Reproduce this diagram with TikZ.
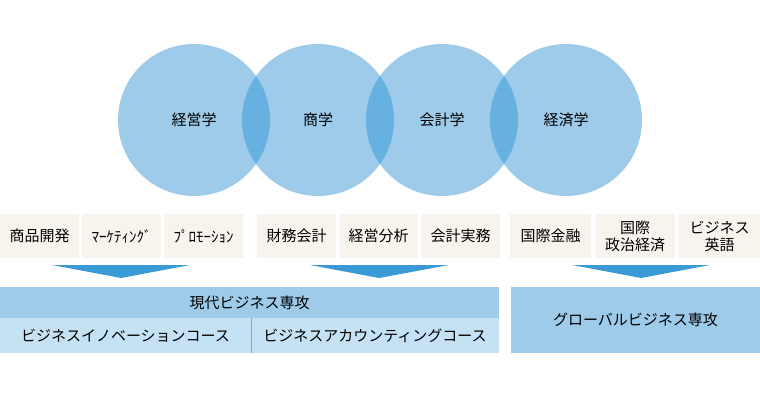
\documentclass[tikz,border=0pt]{standalone}
\usepackage{fontspec}
\setmainfont{Noto Sans CJK JP}
\usepackage{tikz}

\definecolor{circblue}{HTML}{9DCBE9}
\definecolor{lensblue}{HTML}{67B1E0}
\definecolor{arrowblue}{HTML}{3A9AD6}
\definecolor{boxbeige}{HTML}{F9F3ED}
\definecolor{barblue}{HTML}{9DCBE9}
\definecolor{sublight}{HTML}{C5E1F4}
\definecolor{divblue}{HTML}{5DB0E6}

\tikzset{
  subject/.style={circle, fill=circblue, minimum size=152pt, inner sep=0pt,
    font=\fontsize{15}{17}\selectfont},
  topic/.style={fill=boxbeige, minimum height=44pt, inner sep=0pt, align=center,
    font=\fontsize{15}{17}\selectfont},
  major/.style={fill=barblue, inner sep=0pt, font=\fontsize{15}{17}\selectfont},
  course/.style={fill=sublight, inner sep=0pt, minimum height=35pt,
    minimum width=251pt, font=\fontsize{15}{17}\selectfont}
}

\begin{document}
\begin{tikzpicture}[x=1pt, y=-1pt]
    \useasboundingbox (0,0) rectangle (760,400);

    % circles
    \node[subject] (keiei) at (194,120) {経営学};
    \node[subject] (shou)  at (318,120) {商学};
    \node[subject] (kaikei) at (442,120) {会計学};
    \node[subject] (keizai) at (566,120) {経済学};

    \begin{scope}
        \clip (keiei.center) circle (76);
        \fill[lensblue] (shou.center) circle (76);
    \end{scope}
    \begin{scope}
        \clip (shou.center) circle (76);
        \fill[lensblue] (kaikei.center) circle (76);
    \end{scope}
    \begin{scope}
        \clip (kaikei.center) circle (76);
        \fill[lensblue] (keizai.center) circle (76);
    \end{scope}

    % topics
    \node[topic, minimum width=79pt] (shohin) at (39.5,236) {商品開発};
    \node[topic, minimum width=79pt] (marke)  at (121.5,236) {ﾏｰｹﾃｨﾝｸﾞ};
    \node[topic, minimum width=79pt] (promo)  at (203.5,236) {ﾌﾟﾛﾓｰｼｮﾝ};

    \node[topic, minimum width=79pt] (zaimu)  at (296.5,236) {財務会計};
    \node[topic, minimum width=79pt] (bunseki) at (378.5,236) {経営分析};
    \node[topic, minimum width=79pt] (jitsumu) at (460.5,236) {会計実務};

    \node[topic, minimum width=81pt] (kinyu)  at (550.5,236) {国際金融};
    \node[topic, minimum width=80pt] (seiji)  at (635,236) {国際\\政治経済};
    \node[topic, minimum width=81pt] (eigo)   at (719.5,236) {ビジネス\\英語};

    % arrows
    \fill[arrowblue] (52,265) -- (190,265) -- (121,278) -- cycle;
    \fill[arrowblue] (310,265) -- (449,265) -- (379,278) -- cycle;
    \fill[arrowblue] (572,265) -- (710,265) -- (641,278) -- cycle;

    % majors
    \node[major, minimum width=499pt, minimum height=31pt] (gendai) at (249.5,302.5) {現代ビジネス専攻};
    \node[course] (innov) at (125.5,335.5) {ビジネスイノベーションコース};
    \node[course, minimum width=248pt] (account) at (375,335.5) {ビジネスアカウンティングコース};
    \draw[divblue, line width=1pt] (innov.north east) -- (innov.south east);
    \node[major, minimum width=249pt, minimum height=66pt] (global) at (635.5,320) {グローバルビジネス専攻};
\end{tikzpicture}
\end{document}
